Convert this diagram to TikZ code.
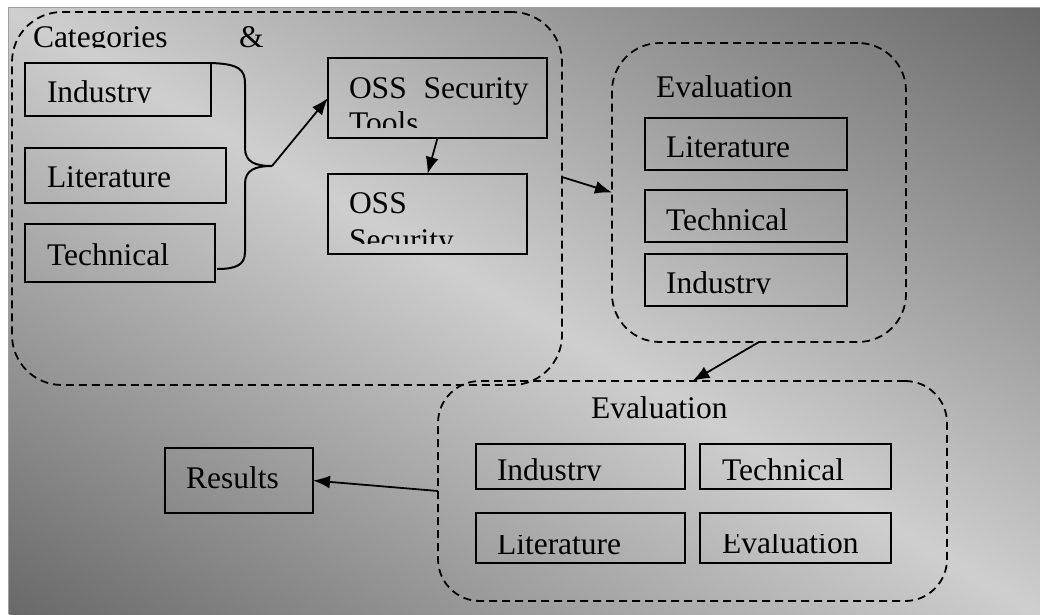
\documentclass[tikz,border=0pt]{standalone}
\usepackage{fontspec}
\setmainfont{Liberation Serif}
\usetikzlibrary{arrows.meta,fit}
\definecolor{bgdark}{gray}{0.41}
\definecolor{bglight}{gray}{0.81}
\definecolor{framegray}{gray}{0.62}
\newcommand{\cliptxt}[4]{\begin{scope}\clip #1;\node[lbl] (#2) at #3 {#4};\end{scope}}
\begin{document}
\begin{tikzpicture}[x=1pt,y=-1pt,
  box/.style={draw=black,line width=2pt,inner sep=0pt,outer sep=0pt,fill=none},
  group/.style={draw=black,line width=1.8pt,dash pattern=on 8pt off 5pt,rounded corners=#1,inner sep=0pt,outer sep=0pt},
  lbl/.style={anchor=base west,inner sep=0pt,outer sep=0pt,font=\fontsize{31.5}{35}\selectfont},
  arr/.style={line width=1.8pt,-{Latex[length=17pt,width=13pt]}}]
\useasboundingbox (0,0) rectangle (1040,614);
% background
\begin{scope}
\clip (8,7) rectangle (1040,614);
\begin{scope}[transform canvas={shift={(524,310.5)},rotate=-30.46}]
\shade[top color=bgdark,bottom color=bgdark,middle color=bglight] (-1500,-523) rectangle (1500,523);
\end{scope}
\end{scope}
\draw[framegray,line width=1.2pt] (8.5,614) -- (8.5,7.5) -- (1040,7.5);

% group 1
\node[group=50pt,fit={(12,12) (562,385)}] (cat) {};
\begin{scope}\clip (14,14) rectangle (320,47.5);
\node[lbl] (tcat) at (33,47) {Categories};
\node[lbl] (tamp) at (239,47) {\&};
\end{scope}
\node[box,fit={(25,63) (211,116)}] (ind1) {};
\cliptxt{(26,64) rectangle (210,102.5)}{tind1}{(47,102)}{Industry}
\node[box,fit={(25,148) (226,203)}] (lit1) {};
\node[lbl] (tlit1) at (47,187) {Literature};
\node[box,fit={(25,224) (215,282)}] (tec1) {};
\node[lbl] (ttec1) at (47,265) {Technical};
% brace
\coordinate (tip) at (272,166);
\draw[line width=2pt] (ind1.north east) .. controls (240,64) and (245,70) .. (245,84) -- (245,148)
  .. controls (245,162) and (255,166) .. (tip)
  .. controls (255,166) and (245,170) .. (245,184) -- (245,252)
  .. controls (245,265) and (236,269) .. (217,269);
\node[box,fit={(328,58) (547,138)}] (tools) {};
\cliptxt{(329,59) rectangle (546,127)}{ttools}{(349,98)}{OSS\hspace{9pt} Security}
\begin{scope}\clip (329,59) rectangle (546,127);
\node[lbl] (ttools2) at (349,133) {Tools};
\end{scope}
\node[box,fit={(328,174) (527,254)}] (oss) {};
\begin{scope}\clip (329,175) rectangle (526,243);
\node[lbl] (toss) at (349,213) {OSS};
\node[lbl] (toss2) at (349,250) {Security};
\end{scope}
\draw[arr] (tip) -- (tools.west);
\draw[arr] (tools.south) -- (oss.north);

% group 2
\node[group=48pt,fit={(612,43) (906,342)}] (eval) {};
\node[lbl] (teval) at (656,97) {Evaluation};
\node[box,fit={(645,118) (847,170)}] (lit2) {};
\node[lbl] (tlit2) at (666,157) {Literature};
\node[box,fit={(645,190) (847,242)}] (tec2) {};
\node[lbl] (ttec2) at (666,230) {Technical};
\node[box,fit={(645,254) (847,306)}] (ind2) {};
\cliptxt{(646,255) rectangle (846,293.5)}{tind2}{(666,293)}{Industry}
\draw[arr] ([yshift=21.5pt]cat.east) -- (eval.west);

% group 3
\node[group=42pt,fit={(438,381) (947,601)}] (ev3) {};
\cliptxt{(440,383) rectangle (940,418.5)}{tev3}{(591,418)}{Evaluation}
\node[box,fit={(476,444) (685,489)}] (ind3) {};
\cliptxt{(477,445) rectangle (684,480)}{tind3}{(497,480)}{Industry}
\node[box,fit={(700,444) (891,489)}] (tec3) {};
\cliptxt{(701,445) rectangle (890,480)}{ttec3}{(722,480)}{Technical}
\node[box,fit={(476,513) (685,563)}] (lit3) {};
\cliptxt{(477,535.5) rectangle (684,562)}{tlit3}{(497,554)}{Literature}
\node[box,fit={(700,513) (891,563)}] (evb3) {};
\cliptxt{(701,534.5) rectangle (890,562)}{tevb3}{(722,553)}{Evaluation}
\draw[arr] (eval.south) -- (ev3.north);

% results
\node[box,fit={(165,448) (313,513)}] (res) {};
\node[lbl] (tres) at (186,488) {Results};
\draw[arr] (ev3.west) -- (res.east);
\end{tikzpicture}
\end{document}
